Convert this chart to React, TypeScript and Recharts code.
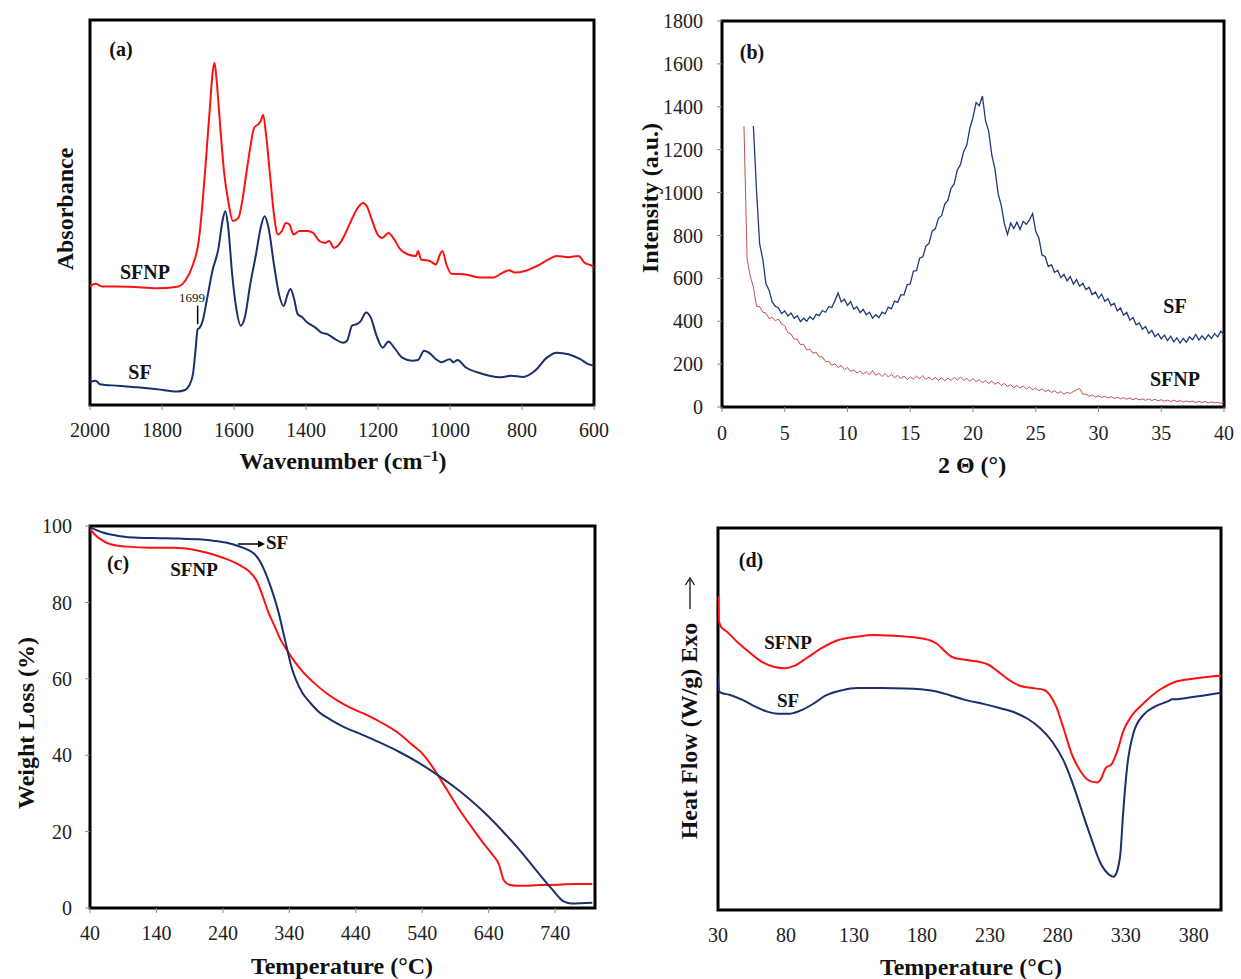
import React from "react";
import { LineChart, Line, XAxis, YAxis, ReferenceArea, ReferenceLine } from "recharts";

// (a) FTIR — wavenumber (cm-1) and absorbance in arbitrary units (0 = frame bottom, 100 = frame top)
const FTIR_TICKS = [2000, 1800, 1600, 1400, 1200, 1000, 800, 600];
const FTIR_SFNP_WN = [
  2000, 1984, 1967, 1890, 1813, 1758, 1736, 1714, 1698, 1687, 1676, 1665, 1660, 1654, 1649, 1638,
  1627, 1616, 1603, 1588, 1577, 1566, 1555, 1544, 1533, 1526, 1519, 1511, 1500, 1489, 1478, 1467,
  1456, 1446, 1435, 1418, 1407, 1396, 1380, 1363, 1347, 1336, 1322, 1308, 1292, 1275, 1259, 1242,
  1231, 1216, 1201, 1188, 1171, 1155, 1138, 1116, 1094, 1089, 1080, 1056, 1039, 1028, 1021, 1010,
  996, 957, 913, 880, 853, 836, 820, 792, 759, 726, 704, 671, 643, 627, 605, 600,
];
const FTIR_SFNP_ABS = [
  30.9, 31.5, 30.8, 30.7, 30.3, 30.7, 32.2, 36.5, 42.6, 52.9, 66.0, 79.8, 85.8, 88.9, 85, 72,
  60, 53, 47.8, 48.6, 53, 60, 66.8, 72, 72.9, 73.7, 75.4, 70.2, 59.8, 49.5, 44.3, 45.2,
  47.3, 46.9, 44.3, 45.2, 45.2, 45.2, 44.7, 42.6, 42.1, 42.6, 40.8, 41.7, 44.3, 47.8, 50.8, 52.5,
  51.6, 47.8, 44.3, 43.4, 44.7, 43, 40.4, 39.1, 38.7, 40, 37.8, 37.4, 36.5, 39.1, 40, 36.5,
  34.1, 33.9, 33.1, 33.1, 34.4, 35, 34.4, 34.8, 36.1, 37.8, 38.7, 38.4, 38.7, 37, 36.1, 35.7,
];
const FTIR_SF_WN = [
  2000, 1984, 1973, 1923, 1868, 1813, 1758, 1736, 1725, 1714, 1707, 1701, 1695, 1687, 1676, 1660,
  1643, 1632, 1624, 1616, 1605, 1594, 1581, 1570, 1555, 1539, 1526, 1515, 1504, 1489, 1475, 1462,
  1451, 1443, 1434, 1423, 1412, 1396, 1374, 1357, 1341, 1319, 1297, 1286, 1272, 1259, 1248, 1233,
  1220, 1204, 1187, 1171, 1155, 1133, 1105, 1089, 1072, 1056, 1039, 1023, 1001, 990, 979, 957,
  924, 891, 858, 830, 797, 764, 731, 704, 671, 638, 616, 600,
];
const FTIR_SF_ABS = [
  5.9, 6.3, 5.4, 5.0, 4.6, 4.1, 3.5, 3.9, 5.0, 8.0, 14.1, 19.7, 20.1, 21.8, 27, 34.8,
  40.8, 47.8, 50.3, 46, 33.9, 25.3, 20.6, 22.7, 31.3, 39.1, 46, 49, 46, 36.5, 28.8, 25.7,
  28.8, 30.1, 27.9, 23.6, 22.9, 21.4, 20.1, 18.8, 18.4, 17.1, 16.2, 16.7, 20.6, 21, 21.8, 24,
  22.7, 18, 14.9, 16.5, 14.9, 12.3, 11.5, 11.7, 14.1, 13.4, 11.9, 11.1, 11.9, 11.1, 11.7, 9.8,
  8.5, 7.6, 7.2, 7.6, 7.3, 8.9, 12.3, 13.6, 13.2, 11.9, 10.6, 10.2,
];

// (b) XRD — 2 theta (deg) and intensity (a.u.)
const XRD_X_TICKS = [0, 5, 10, 15, 20, 25, 30, 35, 40];
const XRD_Y_TICKS = [0, 200, 400, 600, 800, 1000, 1200, 1400, 1600, 1800];
const XRD_ANGLE = [
  1.75,
  2, 2.25, 2.5, 2.75, 3, 3.25, 3.5, 3.75, 4, 4.25, 4.5, 4.75, 5, 5.25, 5.5, 5.75,
  6, 6.25, 6.5, 6.75, 7, 7.25, 7.5, 7.75, 8, 8.25, 8.5, 8.75, 9, 9.25, 9.5, 9.75,
  10, 10.25, 10.5, 10.75, 11, 11.25, 11.5, 11.75, 12, 12.25, 12.5, 12.75, 13, 13.25, 13.5, 13.75,
  14, 14.25, 14.5, 14.75, 15, 15.25, 15.5, 15.75, 16, 16.25, 16.5, 16.75, 17, 17.25, 17.5, 17.75,
  18, 18.25, 18.5, 18.75, 19, 19.25, 19.5, 19.75, 20, 20.25, 20.5, 20.75, 21, 21.25, 21.5, 21.75,
  22, 22.25, 22.5, 22.75, 23, 23.25, 23.5, 23.75, 24, 24.25, 24.5, 24.75, 25, 25.25, 25.5, 25.75,
  26, 26.25, 26.5, 26.75, 27, 27.25, 27.5, 27.75, 28, 28.25, 28.5, 28.75, 29, 29.25, 29.5, 29.75,
  30, 30.25, 30.5, 30.75, 31, 31.25, 31.5, 31.75, 32, 32.25, 32.5, 32.75, 33, 33.25, 33.5, 33.75,
  34, 34.25, 34.5, 34.75, 35, 35.25, 35.5, 35.75, 36, 36.25, 36.5, 36.75, 37, 37.25, 37.5, 37.75,
  38, 38.25, 38.5, 38.75, 39, 39.25, 39.5, 39.75,
  40,
];
const XRD_SF = [
  null,
  null, null, 1310, 1010, 760, 690, 575, 545, 490, 470, 462, 436, 448, 424, 438, 414,
  426, 398, 414, 400, 421, 408, 432, 426, 450, 442, 468, 464, 496, 532, 490, 502,
  474, 492, 456, 468, 440, 455, 430, 442, 414, 430, 416, 442, 434, 466, 458, 494,
  488, 524, 522, 570, 574, 634, 636, 694, 700, 750, 764, 820, 832, 880, 892, 946,
  964, 1020, 1040, 1105, 1130, 1190, 1220, 1300, 1350, 1420, 1405, 1450, 1335, 1285, 1175, 1110,
  995, 940, 855, 805, 858, 832, 862, 828, 866, 852, 872, 902, 818, 788, 708, 702,
  655, 664, 628, 637, 603, 618, 588, 608, 573, 594, 563, 577, 548, 558, 524, 536,
  508, 526, 493, 505, 473, 484, 448, 462, 428, 441, 405, 417, 383, 392, 363, 375,
  343, 357, 328, 342, 318, 335, 310, 330, 304, 322, 298, 320, 302, 327, 314, 338,
  312, 332, 314, 337, 320, 342, 327, 354,
  338,
];
const XRD_SFNP = [
  1310,
  690, 610, 560, 470, 468, 442, 438, 412, 418, 402, 410, 387, 378, 347, 340, 317,
  316, 290, 293, 267, 270, 250, 256, 234, 234, 212, 213, 194, 202, 184, 194, 174,
  184, 166, 173, 158, 168, 154, 164, 150, 170, 148, 158, 142, 156, 140, 153, 136,
  148, 132, 144, 128, 140, 130, 144, 132, 146, 128, 140, 126, 138, 124, 136, 122,
  134, 124, 138, 126, 140, 124, 134, 120, 132, 118, 128, 112, 124, 110, 120, 106,
  116, 100, 110, 96, 104, 90, 100, 88, 98, 84, 94, 80, 88, 76, 84, 72,
  80, 68, 76, 64, 72, 60, 68, 63, 72, 80, 86, 60, 60, 50, 56, 46,
  52, 44, 50, 42, 48, 40, 46, 38, 44, 36, 42, 34, 40, 33, 38, 31,
  38, 30, 36, 29, 34, 27, 32, 25, 32, 25, 30, 23, 28, 23, 28, 21,
  26, 21, 26, 19, 24, 19, 22, 17,
  23,
];

// (c) TGA — temperature (°C) and weight (%)
const TGA_X_TICKS = [40, 140, 240, 340, 440, 540, 640, 740];
const TGA_Y_TICKS = [0, 20, 40, 60, 80, 100];
const TGA_SF_T = [
  40, 59, 83, 113, 144, 174, 204, 228, 246, 264, 276, 288, 297, 306, 315, 324, 331, 337, 343, 350,
  360, 372, 384, 403, 421, 445, 475, 505, 535, 565, 589, 613, 637, 661, 686, 710, 734, 752, 764, 796,
];
const TGA_SF_W = [
  99.6, 98.3, 97.4, 96.9, 96.8, 96.7, 96.5, 96.1, 95.6, 94.7, 93.9, 92.6, 90.4, 86.9, 82.5, 77.2, 72.0, 67.6, 63.2, 59.7,
  56.2, 53.6, 51.4, 49.2, 47.5, 45.7, 43.4, 40.9, 38.0, 34.6, 31.6, 28.2, 24.4, 20.1, 15.3, 10.2, 5.2, 1.8, 1.2, 1.4,
];
const TGA_SFNP_T = [
  40, 53, 71, 95, 132, 168, 192, 216, 240, 264, 279, 291, 300, 309, 318, 327, 336, 348, 360, 378, 396,
  415, 433, 457, 481, 505, 523, 541, 559, 577, 595, 613, 631, 646, 655, 663, 671, 686, 716, 746, 770, 796,
];
const TGA_SFNP_W = [
  99.1, 96.9, 95.2, 94.6, 94.3, 94.3, 93.9, 93.0, 91.7, 89.9, 88.2, 85.6, 81.6, 77.2, 73.7, 70.2, 67.6, 64.5, 61.9, 58.8, 56.2,
  54.0, 52.3, 50.5, 48.3, 45.7, 43.0, 40.3, 36.0, 31.0, 26.0, 21.5, 17.2, 13.9, 11.6, 7.2, 6.1, 5.8, 6.0, 6.1, 6.3, 6.3,
];

// (d) DSC — temperature (°C) and heat flow in arbitrary units
const DSC_X_TICKS = [30, 80, 130, 180, 230, 280, 330, 380];
const DSC_SFNP_T = [
  30, 30.6, 32, 36.4, 45, 54, 63, 71.5, 79, 86, 95, 106.5, 118, 133, 144, 159, 174, 185, 191, 197,
  203, 211.5, 220, 229, 236, 243.7, 252, 261, 270, 274, 278.7, 284.5, 290, 296, 300.6, 305, 309, 312, 315, 319.6,
  324, 328, 334, 343, 354.6, 366, 378, 389.6, 400,
];
const DSC_SFNP_HF = [
  82.1, 76, 74.2, 72.9, 69.9, 67.2, 64.8, 63.6, 63.3, 63.9, 65.9, 68.6, 70.6, 71.6, 72, 71.8, 71.4, 70.7, 69.7, 67.7,
  66.1, 65.5, 65.1, 64.2, 62.4, 60.3, 58.7, 58.1, 57.6, 56.3, 53.3, 47.2, 41, 36.7, 34.5, 33.6, 33.4, 34.5, 37.1, 38.2,
  41.9, 46.7, 50.7, 54.1, 57.6, 59.7, 60.5, 61, 61.3,
];
const DSC_SF_T = [
  30, 30.6, 32, 39, 48, 57, 65.6, 74, 83, 92, 100.6, 109, 121, 132.7, 150, 167.8, 188, 200, 211.6, 226,
  237.8, 249.5, 258, 267, 275.8, 284.5, 293, 299, 305, 310.8, 316.6, 321, 323, 326, 328, 331, 335.6, 343, 351.7, 362,
  364, 366, 378, 389.6, 400,
];
const DSC_SF_HF = [
  61.1, 57.6, 56.9, 56.3, 55, 53.3, 52, 51.4, 51.4, 52.4, 54.1, 56.1, 57.5, 58.1, 58.1, 58, 57.4, 56.3, 55, 53.9,
  52.8, 51.5, 50, 47.6, 44.1, 38.9, 31, 24.5, 18.3, 12.7, 9.6, 8.7, 9.6, 14.8, 25.3, 37.6, 46.3, 51.1, 53.3, 54.8,
  55.2, 55.2, 55.7, 56.3, 56.9,
];

const SERIF = '"Liberation Serif", "Times New Roman", serif';
const RED = "#ff1010";
const NAVY = "#1a2f6b";
const XRD_RED = "#c0504d";
const XRD_BLUE = "#1f3a7a";

const pairs = (xs: number[], ys: (number | null)[]) => xs.map((x, i) => ({ x, y: ys[i] }));

const ftirSfnp = pairs(FTIR_SFNP_WN, FTIR_SFNP_ABS);
const ftirSf = pairs(FTIR_SF_WN, FTIR_SF_ABS);
const xrdData = XRD_ANGLE.map((x, i) => ({ x, sf: XRD_SF[i], sfnp: XRD_SFNP[i] }));
const tgaSf = pairs(TGA_SF_T, TGA_SF_W);
const tgaSfnp = pairs(TGA_SFNP_T, TGA_SFNP_W);
const dscSfnp = pairs(DSC_SFNP_T, DSC_SFNP_HF);
const dscSf = pairs(DSC_SF_T, DSC_SF_HF);

const tickFont = { fontFamily: SERIF, fontSize: 20, fill: "#222" };
const tickLine = { stroke: "#888" };

function Tag({
  x,
  y,
  children,
  size = 20,
  bold = true,
  rotate = 0,
}: {
  x: number;
  y: number;
  children: React.ReactNode;
  size?: number;
  bold?: boolean;
  rotate?: number;
}) {
  return (
    <div
      style={{
        position: "absolute",
        left: x,
        top: y,
        transform: `translate(-50%, -50%) rotate(${rotate}deg)`,
        fontFamily: SERIF,
        fontSize: size,
        fontWeight: bold ? 700 : 400,
        whiteSpace: "nowrap",
        lineHeight: 1,
        color: "#111",
      }}
    >
      {children}
    </div>
  );
}

function Frame({ x1, x2, y1, y2 }: { x1: number; x2: number; y1: number; y2: number }) {
  return <ReferenceArea x1={x1} x2={x2} y1={y1} y2={y2} fill="none" stroke="#000" strokeWidth={3} ifOverflow="visible" />;
}

export default function App() {
  return (
    <div style={{ position: "absolute", left: 0, top: 0, width: 1241, height: 979, background: "#fff", overflow: "hidden" }}>
      {/* (a) FTIR */}
      <div style={{ position: "absolute", left: 0, top: 0 }}>
        <LineChart width={620} height={480} margin={{ top: 20, right: 26, bottom: 35, left: 90 }}>
          <XAxis
            type="number"
            dataKey="x"
            domain={[600, 2000]}
            reversed
            ticks={FTIR_TICKS}
            interval={0}
            allowDataOverflow
            tick={tickFont}
            tickLine={tickLine}
            tickSize={5}
            tickMargin={13}
            axisLine={false}
            height={40}
          />
          <YAxis hide type="number" domain={[0, 100]} allowDataOverflow />
          <Line data={ftirSfnp} dataKey="y" type="monotone" stroke={RED} strokeWidth={2} dot={false} isAnimationActive={false} />
          <Line data={ftirSf} dataKey="y" type="monotone" stroke={NAVY} strokeWidth={2} dot={false} isAnimationActive={false} />
          <ReferenceLine segment={[{ x: 1701, y: 21 }, { x: 1701, y: 25.8 }]} stroke="#000" strokeWidth={1.5} />
          <Frame x1={600} x2={2000} y1={0} y2={100} />
        </LineChart>
      </div>

      {/* (b) XRD */}
      <div style={{ position: "absolute", left: 620, top: 0 }}>
        <LineChart width={621} height={480} data={xrdData} margin={{ top: 21, right: 17, bottom: 33, left: 42 }}>
          <XAxis
            type="number"
            dataKey="x"
            domain={[0, 40]}
            ticks={XRD_X_TICKS}
            interval={0}
            allowDataOverflow
            tick={tickFont}
            tickLine={tickLine}
            tickSize={5}
            tickMargin={14}
            axisLine={false}
            height={40}
          />
          <YAxis
            type="number"
            domain={[0, 1800]}
            ticks={XRD_Y_TICKS}
            interval={0}
            allowDataOverflow
            tick={tickFont}
            tickLine={tickLine}
            tickSize={5}
            tickMargin={14}
            axisLine={false}
            width={60}
          />
          <Line dataKey="sfnp" type="linear" stroke={XRD_RED} strokeWidth={1} dot={false} isAnimationActive={false} />
          <Line dataKey="sf" type="linear" stroke={XRD_BLUE} strokeWidth={1.3} dot={false} isAnimationActive={false} />
          <Frame x1={0} x2={40} y1={0} y2={1800} />
        </LineChart>
      </div>

      {/* (c) TGA */}
      <div style={{ position: "absolute", left: 0, top: 480 }}>
        <LineChart width={620} height={499} margin={{ top: 46, right: 25, bottom: 31, left: 30 }}>
          <XAxis
            type="number"
            dataKey="x"
            domain={[40, 800]}
            ticks={TGA_X_TICKS}
            interval={0}
            allowDataOverflow
            tick={tickFont}
            tickLine={tickLine}
            tickSize={5}
            tickMargin={13}
            axisLine={false}
            height={40}
          />
          <YAxis
            type="number"
            domain={[0, 100]}
            ticks={TGA_Y_TICKS}
            interval={0}
            allowDataOverflow
            tick={tickFont}
            tickLine={tickLine}
            tickSize={5}
            tickMargin={13}
            axisLine={false}
            width={60}
          />
          <Line data={tgaSfnp} dataKey="y" type="monotone" stroke={RED} strokeWidth={2} dot={false} isAnimationActive={false} />
          <Line data={tgaSf} dataKey="y" type="monotone" stroke={NAVY} strokeWidth={2} dot={false} isAnimationActive={false} />
          <Frame x1={40} x2={800} y1={0} y2={100} />
        </LineChart>
      </div>

      {/* (d) DSC */}
      <div style={{ position: "absolute", left: 620, top: 480 }}>
        <LineChart width={621} height={499} margin={{ top: 48, right: 20, bottom: 29, left: 98 }}>
          <XAxis
            type="number"
            dataKey="x"
            domain={[30, 400]}
            ticks={DSC_X_TICKS}
            interval={0}
            allowDataOverflow
            tick={tickFont}
            tickLine={false}
            tickSize={5}
            tickMargin={13}
            axisLine={false}
            height={40}
          />
          <YAxis hide type="number" domain={[0, 100]} allowDataOverflow />
          <Line data={dscSfnp} dataKey="y" type="monotone" stroke={RED} strokeWidth={2} dot={false} isAnimationActive={false} />
          <Line data={dscSf} dataKey="y" type="monotone" stroke={NAVY} strokeWidth={2} dot={false} isAnimationActive={false} />
          <Frame x1={30} x2={400} y1={0} y2={100} />
        </LineChart>
      </div>

      {/* panel annotations */}
      <Tag x={121} y={49}>(a)</Tag>
      <Tag x={145} y={272}>SFNP</Tag>
      <Tag x={140} y={372}>SF</Tag>
      <Tag x={192} y={297} size={13} bold={false}>1699</Tag>
      <Tag x={65} y={209} size={24} rotate={-90}>Absorbance</Tag>
      <Tag x={343} y={461} size={24}>
        Wavenumber (cm<sup style={{ fontSize: 15, verticalAlign: "8px" }}>−1</sup>)
      </Tag>

      <Tag x={752} y={52}>(b)</Tag>
      <Tag x={1175} y={306}>SF</Tag>
      <Tag x={1175} y={379}>SFNP</Tag>
      <Tag x={650} y={198} size={24} rotate={-90}>Intensity (a.u.)</Tag>
      <Tag x={972} y={465} size={24}>2 Θ (°)</Tag>

      <Tag x={118} y={563}>(c)</Tag>
      <Tag x={194} y={569} size={19}>SFNP</Tag>
      <svg style={{ position: "absolute", left: 236, top: 538 }} width={30} height={12}>
        <line x1={2} y1={6} x2={24} y2={6} stroke="#000" strokeWidth={1.5} />
        <polygon points="29,6 22,2.5 22,9.5" fill="#000" />
      </svg>
      <Tag x={277} y={542} size={19}>SF</Tag>
      <Tag x={26} y={723} size={24} rotate={-90}>Weight Loss (%)</Tag>
      <Tag x={342} y={966} size={24}>Temperature (°C)</Tag>

      <Tag x={751} y={560}>(d)</Tag>
      <Tag x={788} y={642} size={19}>SFNP</Tag>
      <Tag x={788} y={700} size={19}>SF</Tag>
      <Tag x={689} y={731} size={24} rotate={-90}>Heat Flow (W/g) Exo</Tag>
      <svg style={{ position: "absolute", left: 682, top: 576 }} width={16} height={34}>
        <line x1={8} y1={33} x2={8} y2={4} stroke="#111" strokeWidth={1.3} />
        <polyline points="3.5,9 8,2 12.5,9" fill="none" stroke="#111" strokeWidth={1.3} />
      </svg>
      <Tag x={971} y={967} size={24}>Temperature (°C)</Tag>
    </div>
  );
}
